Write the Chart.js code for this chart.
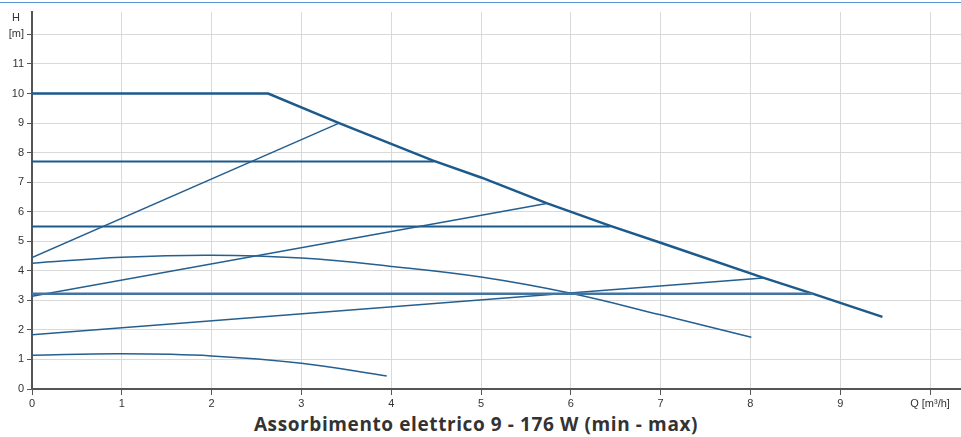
<!DOCTYPE html>
<html>
<head>
<meta charset="utf-8">
<script src="https://cdn.jsdelivr.net/npm/chart.js@4.4.1/dist/chart.umd.min.js"></script>
<style>
  html, body { margin: 0; padding: 0; background: #ffffff; }
  #wrap { position: relative; width: 961px; height: 437px; overflow: hidden; background: #fff; }
  #topline { position: absolute; left: 0; top: 2px; width: 961px; height: 1px; background: #5b95cf; }
  #c { position: absolute; left: 0; top: 0; }
  #hlabel { position: absolute; left: 10px; top: 11px; width: 12px; text-align: center;
            font: 11px "Liberation Sans", Arial, sans-serif; color: #333; line-height: 13px; }
  #title { position: absolute; left: 0; top: 412px; width: 952px; text-align: center;
           font: bold 19px "Open Sans", sans-serif; letter-spacing: 0.6px; color: #333; line-height: 24px; }
</style>
</head>
<body>
<div id="wrap">
  <div id="topline"></div>
  <canvas id="c" width="961" height="410"></canvas>
  <div id="hlabel">H</div>
  <div id="title">Assorbimento elettrico 9 - 176 W (min - max)</div>
</div>
<script>
// ---- Data (Q in m³/h, H in m) ----
const xTickValues = [0,1,2,3,4,5,6,7,8,9,10];
const xTickLabels = ['0','1','2','3','4','5','6','7','8','9','Q [m³/h]'];
const yTickValues = [0,1,2,3,4,5,6,7,8,9,10,11,12];
const yTickLabels = ['0','1','2','3','4','5','6','7','8','9','10','11','[m]'];

// maximum curve (constant head 10 m, then limit line)
const curveMax = [[0,10],[2.63,10],[3.42,9.0],[4.46,7.74],[5.0,7.16],[5.73,6.29],[6.44,5.52],[7.0,4.95],[8.14,3.77],[8.70,3.22],[9.47,2.44]];
// constant-pressure settings
const constHigh = [[0,7.7],[4.48,7.7]];
const constMid  = [[0,5.5],[6.44,5.5]];
const constLow  = [[0,3.22],[8.70,3.22]];
// proportional-pressure settings
const propHigh = [[0,4.45],[3.42,9.0]];
const propMid  = [[0,3.14],[5.73,6.28]];
const propLow  = [[0,1.84],[8.14,3.76]];
// fixed-speed curves
const speedMid = [[0,4.26],[1,4.46],[2,4.53],[3,4.43],[4,4.15],[5,3.79],[6,3.24],[7,2.51],[8.01,1.75]];
const speedMin = [[0,1.14],[1,1.19],[2,1.12],[3,0.87],[3.95,0.44]];

const toXY = arr => arr.map(p => ({x: p[0], y: p[1]}));
const mk = (arr, color, width, tension) => ({
  data: toXY(arr), borderColor: color, borderWidth: width, tension: tension,
  pointRadius: 0, fill: false
});

const dark = '#1d5a8c';
const mid  = '#245f90';
const datasets = [
  mk(constLow, '#4374a1', 2.5, 0),
  mk(speedMin, mid, 1.5, 0.4),
  mk(speedMid, mid, 1.5, 0.4),
  mk(propLow,  mid, 1.5, 0),
  mk(propMid,  mid, 1.5, 0),
  mk(propHigh, mid, 1.5, 0),
  mk(constMid, dark, 2, 0),
  mk(constHigh, dark, 2, 0),
  mk(curveMax, dark, 2.5, 0)
];

const tickFont = {family: '"Liberation Sans", Arial, sans-serif', size: 11};

new Chart(document.getElementById('c'), {
  type: 'line',
  data: { datasets },
  options: {
    responsive: false,
    animation: false,
    layout: { padding: { top: 12, right: 0, bottom: 0, left: 0 } },
    plugins: { legend: { display: false }, tooltip: { enabled: false }, title: { display: false } },
    scales: {
      x: {
        type: 'linear', min: 0, max: 10.345,
        afterBuildTicks: s => { s.ticks = xTickValues.map(v => ({value: v})); },
        afterFit: s => { s.height = 21; },
        ticks: {
          autoSkip: false, maxRotation: 0, padding: 2, color: '#333', font: tickFont,
          callback: (v) => xTickLabels[xTickValues.indexOf(v)]
        },
        grid: { color: '#d9d9d9', lineWidth: 1, tickColor: '#555', tickLength: 6 },
        border: { color: '#555', width: 2 }
      },
      y: {
        type: 'linear', min: 0, max: 12.76,
        afterBuildTicks: s => { s.ticks = yTickValues.map(v => ({value: v})); },
        afterFit: s => { s.width = 32; },
        ticks: {
          autoSkip: false, padding: 3, color: '#333', font: tickFont,
          callback: (v) => yTickLabels[yTickValues.indexOf(v)]
        },
        grid: { color: '#d9d9d9', lineWidth: 1, tickColor: '#555', tickLength: 5 },
        border: { color: '#555', width: 2 }
      }
    }
  }
});
</script>
</body>
</html>
